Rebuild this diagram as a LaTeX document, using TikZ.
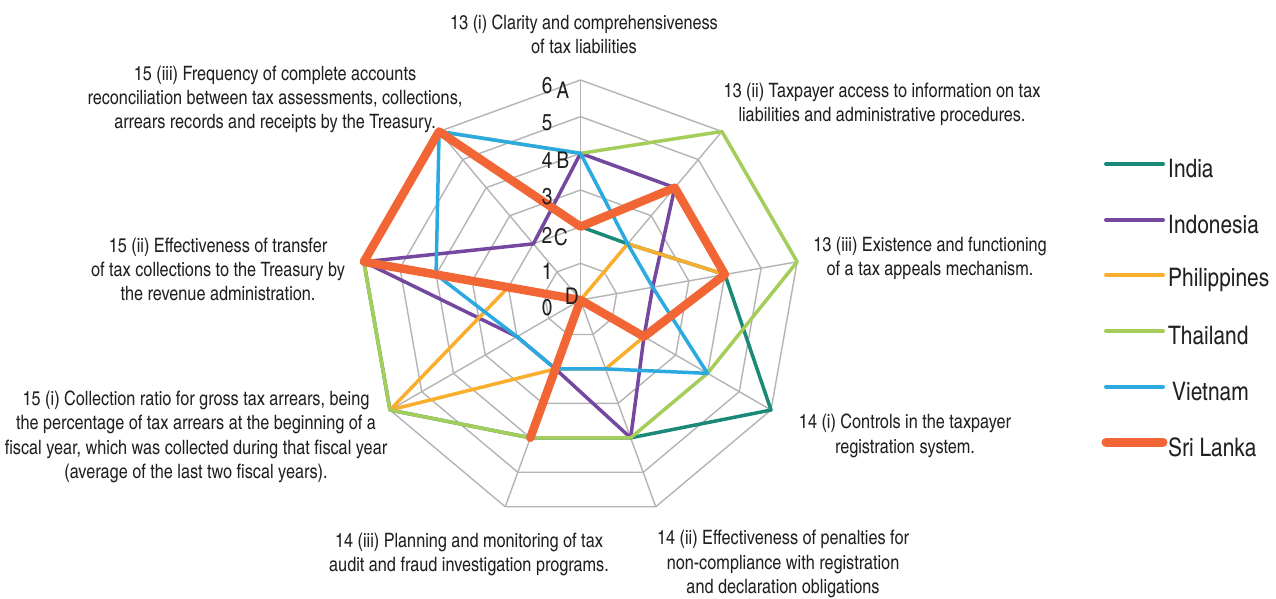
\documentclass[tikz,border=0pt]{standalone}
\usepackage{fontspec}
\setmainfont{texgyreheroscn-regular.otf}
\definecolor{cIndia}{RGB}{26,137,120}
\definecolor{cIndo}{RGB}{117,72,160}
\definecolor{cPhil}{RGB}{250,174,45}
\definecolor{cThai}{RGB}{165,205,90}
\definecolor{cViet}{RGB}{42,170,225}
\definecolor{cSri}{RGB}{242,101,52}
\definecolor{cGrid}{RGB}{180,180,180}
\definecolor{txt}{RGB}{35,31,32}
\newcommand{\radarseries}[3]{%
  \draw[#1] (-90:{#2*\u}) \foreach \v [count=\k] in {#3} { -- ({\k*40-90}:{\v*\u}) } -- cycle;}
\begin{document}
\begin{tikzpicture}[x=1pt,y=-1pt,
  gridline/.style={draw=cGrid, line width=1.4pt},
  ser/.style={line width=3.5pt, line join=round, line cap=round},
  lbl/.style={align=center, font=\fontsize{19.8}{24.3}\selectfont, text=txt, inner sep=0pt},
  axnum/.style={font=\fontsize{23}{24}\selectfont, text=txt, inner sep=0pt},
  leg/.style={line width=4pt, line cap=round},
  legtxt/.style={anchor=west, font=\fontsize{25.5}{28}\selectfont, text=txt, inner sep=0pt}]
\useasboundingbox (0,0) rectangle (1276,598);
\fill[white] (0,0) rectangle (1276,598);
\def\u{36.667}
\begin{scope}[shift={(580.5,300)}]
  % grid rings
  \foreach \l in {1,...,6}
    \draw[gridline] (-90:{\l*\u}) \foreach \k in {1,...,8} { -- ({\k*40-90}:{\l*\u}) } -- cycle;
  % spokes
  \foreach \k in {0,...,8}
    \draw[gridline] (0,0) -- ({\k*40-90}:{6*\u});
  % series
  \radarseries{ser, draw=cIndia}{2}{2,4,6,4,4,6,6,6}
  \radarseries{ser, draw=cIndo}{4}{4,2,2,4,2,2,6,2}
  \radarseries{ser, draw=cPhil}{0}{2,4,2,2,2,6,2,0}
  \radarseries{ser, draw=cThai}{4}{6,6,4,4,4,6,6,6}
  \radarseries{ser, draw=cViet}{4}{2,2,4,2,2,2,4,6}
  \radarseries{ser, draw=cSri, line width=8.5pt}{2}{4,4,2,0,4,0,6,6}
\end{scope}
% axis numbers and letters
\node[axnum] (n6) at (547,86) {6};
\node[axnum] (n5) at (547,123) {5};
\node[axnum] (n4) at (547,160) {4};
\node[axnum] (n3) at (547,197) {3};
\node[axnum] (n2) at (547,235) {2};
\node[axnum] (n1) at (547,271) {1};
\node[axnum] (n0) at (547,308) {0};
\node[axnum] (lA) at (563,90) {A};
\node[axnum] (lB) at (563,160) {B};
\node[axnum] (lC) at (561,237) {C};
\node[axnum] (lD) at (572,296) {D};
% category labels
\node[lbl] (c13i) at (584,34) {13 (i) Clarity and comprehensiveness\\of tax liabilities};
\node[lbl] (c13ii) at (882,104) {13 (ii) Taxpayer access to information on tax\\liabilities and administrative procedures.};
\node[lbl] (c13iii) at (930,258) {13 (iii) Existence and functioning\\of a tax appeals mechanism.};
\node[lbl] (c14i) at (905,436) {14 (i) Controls in the taxpayer\\registration system.};
\node[lbl] (c14ii) at (783,564) {14 (ii) Effectiveness of penalties for\\non-compliance with registration\\and declaration obligations};
\node[lbl] (c14iii) at (469,554.5) {14 (iii) Planning and monitoring of tax\\audit and fraud investigation programs.};
\node[lbl] (c15i) at (196,437) {15 (i) Collection ratio for gross tax arrears, being\\the percentage of tax arrears at the beginning of a\\fiscal year, which was collected during that fiscal year\\(average of the last two fiscal years).};
\node[lbl] (c15ii) at (218,269.5) {15 (ii) Effectiveness of transfer\\of tax collections to the Treasury by\\the revenue administration.};
\node[lbl] (c15iii) at (275,99.5) {15 (iii) Frequency of complete accounts\\reconciliation between tax assessments, collections,\\arrears records and receipts by the Treasury.};
% legend
\coordinate (g1a) at (1106,164); \coordinate (g1b) at (1163,164);
\coordinate (g2a) at (1106,220); \coordinate (g2b) at (1163,220);
\coordinate (g3a) at (1106,275); \coordinate (g3b) at (1163,275);
\coordinate (g4a) at (1106,331); \coordinate (g4b) at (1163,331);
\coordinate (g5a) at (1106,387); \coordinate (g5b) at (1163,387);
\coordinate (g6a) at (1106,442); \coordinate (g6b) at (1163,442);
\draw[leg, draw=cIndia] (g1a) -- (g1b);
\draw[leg, draw=cIndo] (g2a) -- (g2b);
\draw[leg, draw=cPhil] (g3a) -- (g3b);
\draw[leg, draw=cThai] (g4a) -- (g4b);
\draw[leg, draw=cViet] (g5a) -- (g5b);
\draw[leg, draw=cSri, line width=9pt] (g6a) -- (g6b);
\node[legtxt] (t1) at (1168,169) {India};
\node[legtxt] (t2) at (1168,225) {Indonesia};
\node[legtxt] (t3) at (1168,280) {Philippines};
\node[legtxt] (t4) at (1168,336) {Thailand};
\node[legtxt] (t5) at (1172,392) {Vietnam};
\node[legtxt] (t6) at (1168,447) {Sri Lanka};
\end{tikzpicture}
\end{document}
